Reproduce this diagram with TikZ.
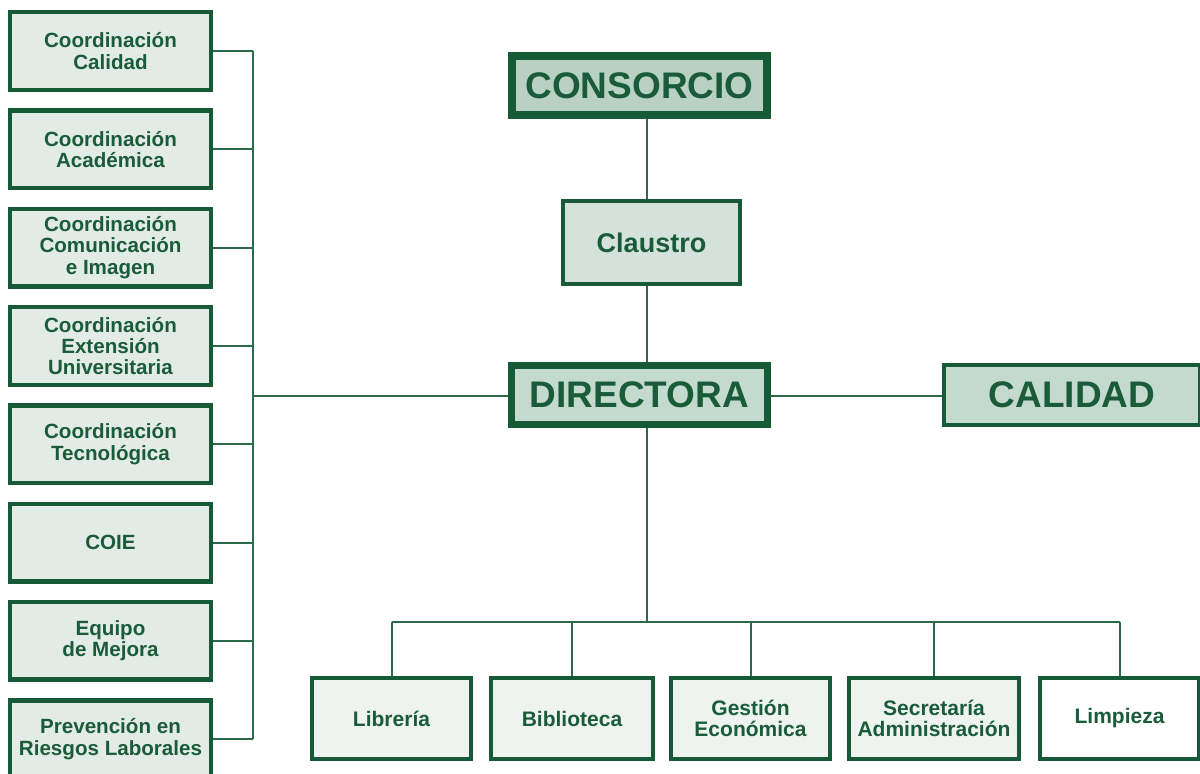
\documentclass[tikz,border=0pt]{standalone}
\usepackage{fontspec}
\setmainfont{Liberation Sans}
\usetikzlibrary{positioning}
\definecolor{verde}{HTML}{175A38}
\definecolor{tinta}{HTML}{1A5C3A}
\definecolor{linea}{HTML}{2A6A48}
\definecolor{fondoA}{HTML}{B9D1C3}
\definecolor{fondoB}{HTML}{C4DACE}
\definecolor{fondoC}{HTML}{D4E2DB}
\definecolor{fondoD}{HTML}{E2EBE5}
\definecolor{fondoE}{HTML}{EEF3EF}

\begin{document}
\begin{tikzpicture}
		[x=0.5pt,y=-0.5pt,
		coord/.style={rectangle,draw=verde,fill=fondoD,line width=2.2pt,text=tinta,inner sep=1pt,align=center,
			font=\fontsize{10.3}{10.6}\selectfont\bfseries,minimum width=100.3pt,minimum height=38.8pt},
		jefe/.style={rectangle,draw=verde,fill=fondoA,line width=4pt,text=tinta,inner sep=1pt,
			font=\fontsize{18.5}{18.5}\selectfont\bfseries,minimum width=127.5pt,minimum height=29.5pt},
		media/.style={rectangle,draw=verde,fill=fondoC,line width=2pt,text=tinta,inner sep=1pt,
			font=\fontsize{13.5}{13.5}\selectfont\bfseries},
		area/.style={rectangle,draw=verde,fill=fondoE,line width=1.8pt,text=tinta,inner sep=1pt,align=center,
			font=\fontsize{10.5}{10.5}\selectfont\bfseries,minimum width=79.7pt,minimum height=40.7pt},
		link/.style={draw=linea,line width=1pt}]
		\useasboundingbox (0,0) rectangle (1200,773);

		% columna izquierda
		\node [coord] (c1) at (110.5,51) {Coordinación\\Calidad};
		\node [coord] (c2) [below=8.15pt of c1] {Coordinación\\Académica};
		\node [coord] (c3) [below=8.15pt of c2] {Coordinación\\Comunicación\\e Imagen};
		\node [coord] (c4) [below=8.15pt of c3] {Coordinación\\Extensión\\Universitaria};
		\node [coord] (c5) [below=8.15pt of c4] {Coordinación\\Tecnológica};
		\node [coord] (c6) [below=8.15pt of c5] {COIE};
		\node [coord] (c7) [below=8.15pt of c6] {Equipo\\de Mejora};
		\node [coord] (c8) [below=8.15pt of c7] {Prevención en\\Riesgos Laborales};

		% centro
		\node [jefe] (cons) at (639.5,85.5) {CONSORCIO};
		\node [media, minimum width=88.5pt, minimum height=41.5pt] (clau) at (651.5,242.5) {Claustro};
		\node [jefe, fill=fondoB, line width=3.5pt, minimum width=128pt] (dir) at (639.5,395) {DIRECTORA};
		\node [media, fill=fondoB, font=\fontsize{18.5}{18.5}\selectfont\bfseries, minimum width=128pt, minimum height=30pt] (cal) at (1072,395) {CALIDAD};

		% fila inferior
		\node [area] (lib) at (391.5,718.5) {Librería};
		\node [area, minimum width=81.2pt] (bib) at (572,718.5) {Biblioteca};
		\node [area] (ges) at (750.5,718.5) {Gestión\\Económica};
		\node [area, minimum width=85.2pt] (sec) at (934,718.5) {Secretaría\\Administración};
		\node [area, fill=white] (lim) at (1119.5,718.5) {Limpieza};

		% puntos de union
		\coordinate (bus) at (253,396);
		\coordinate (eje) at (647,0);
		\coordinate (hub) at (647,622);

		\foreach \i in {1,...,8}
			\draw [link] (c\i.east) -- (c\i.east -| bus);
		\draw [link] (c1.east -| bus) -- (c8.east -| bus);
		\draw [link] (bus) -- (dir.west |- bus);
		\draw [link] (dir.east |- bus) -- (cal.west |- bus);

		\draw [link] (cons.south -| eje) -- (clau.north -| eje);
		\draw [link] (clau.south -| eje) -- (dir.north -| eje);
		\draw [link] (dir.south -| eje) -- (hub);
		\draw [link] (lib.north |- hub) -- (lim.north |- hub);
		\foreach \n in {lib,bib,ges,sec,lim}
			\draw [link] (\n.north) -- (\n.north |- hub);

	\end{tikzpicture}
\end{document}
